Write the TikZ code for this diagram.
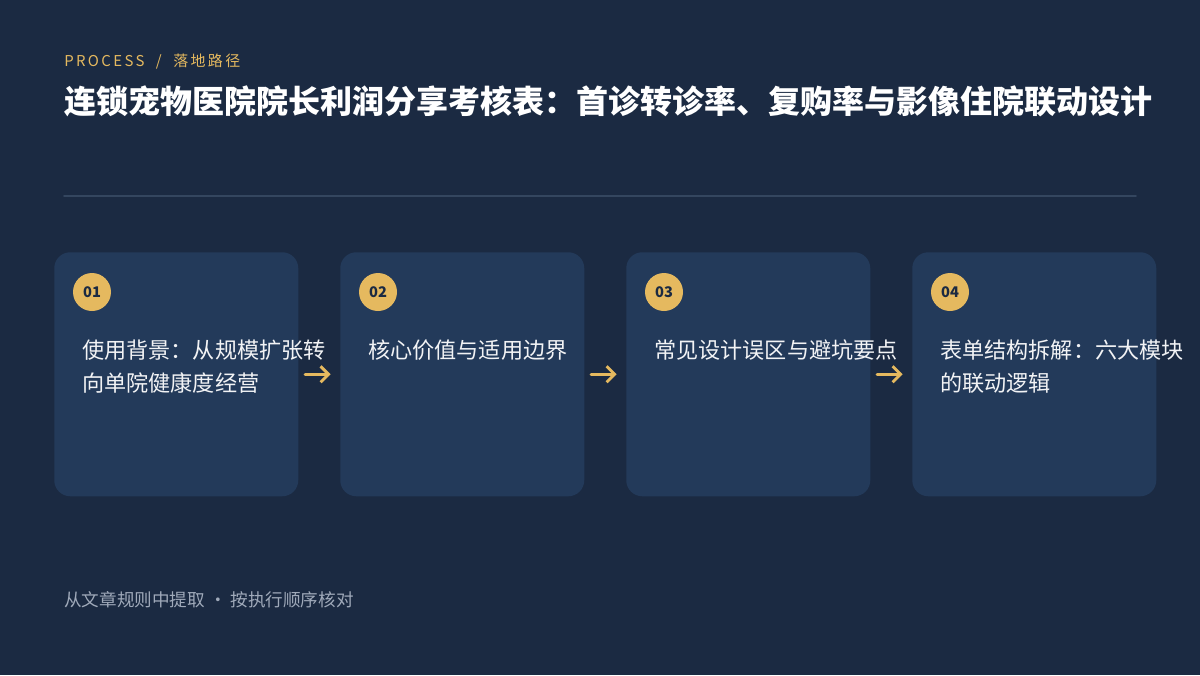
\documentclass[tikz,border=0pt]{standalone}
\usepackage{fontspec}
\setmainfont{Noto Sans CJK SC}
\usetikzlibrary{arrows.meta}
\definecolor{bgnavy}{HTML}{1B2A42}
\definecolor{cardblue}{HTML}{233A5A}
\definecolor{gold}{HTML}{E5B95F}
\definecolor{rulecol}{HTML}{34465F}
\definecolor{notegray}{HTML}{A0AABA}
\begin{document}
\begin{tikzpicture}[x=0.75pt,y=-0.75pt, line join=round, line cap=round,
	card/.style={fill=cardblue, rounded corners=12pt, minimum width=183pt, minimum height=183pt, inner sep=0pt, anchor=north west},
	badge/.style={circle, fill=gold, minimum size=28.5pt, inner sep=0pt, text=bgnavy, font=\bfseries\fontsize{11}{13}\selectfont},
	cardtext/.style={anchor=base west, text width=210pt, align=left, inner sep=0pt, text=white!94!cardblue, font=\fontsize{16.6}{24.75}\selectfont},
	arr/.style={draw=gold, line width=2.2pt, -{Straight Barb[length=6pt,width=12pt]}, shorten <=5pt, shorten >=7pt}]
	\def\cardw{286} \def\cardy{252} % card step, top
	\fill[bgnavy] (0,0) rectangle (1200,675);
	\useasboundingbox (0,0) rectangle (1200,675);
	% header
	\node[anchor=base west, inner sep=0pt, text=gold, font=\fontsize{11.2}{13}\selectfont\addfontfeature{LetterSpace=16}] (kicker) at (64,66) {PROCESS\ \ /\ \ 落地路径};
	\node[anchor=base west, inner sep=0pt, text=white, font=\bfseries\fontsize{24}{28}\selectfont] (title) at (64,113) {连锁宠物医院院长利润分享考核表：首诊转诊率、复购率与影像住院联动设计};
	\draw[rulecol, line width=1.2pt] (64,196) -- (1136,196);
	% cards
	\foreach \i/\t in {1/{使用背景：从规模扩张转\\向单院健康度经营}, 2/{核心价值与适用边界}, 3/{常见设计误区与避坑要点}, 4/{表单结构拆解：六大模块\\的联动逻辑}}{
		\node[card] (c\i) at ({54+(\i-1)*\cardw},\cardy) {};
		\node[badge] (b\i) at ({92+(\i-1)*\cardw},292) {0\i};
		\node[cardtext] (t\i) at ({82+(\i-1)*\cardw},358) {\t};
	}
	\foreach \i/\j in {1/2,2/3,3/4}
		\draw[arr] (c\i.east) -- (c\j.west);
	% footer
	\node[anchor=base west, inner sep=0pt, text=notegray, font=\fontsize{13.2}{15}\selectfont] (note) at (64,606) {从文章规则中提取 · 按执行顺序核对};
\end{tikzpicture}
\end{document}
